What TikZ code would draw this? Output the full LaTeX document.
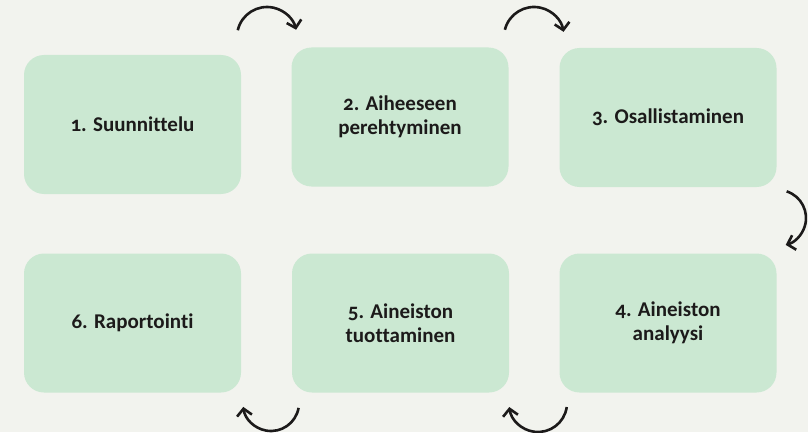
\documentclass[tikz,border=0pt]{standalone}
\usepackage{fontspec}
\setmainfont{Carlito}[Numbers=OldStyle, Ligatures=NoCommon]
\usetikzlibrary{arrows.meta}
\definecolor{bgc}{HTML}{F2F3EE}
\definecolor{boxc}{HTML}{CBE8D2}
\definecolor{inkc}{HTML}{1C1A1A}
\tikzset{
  stepbox/.style={rectangle, rounded corners=20pt, fill=boxc, draw=none,
    minimum width=217pt, minimum height=139pt, align=center,
    font=\fontsize{21}{24.5}\selectfont\bfseries, text=inkc},
  cyclearrow/.style={draw=inkc, line width=2.6pt,
    -{Straight Barb[length=7pt,width=15pt,line width=2.6pt]}}
}
\begin{document}
\begin{tikzpicture}[x=1pt,y=1pt]
\fill[bgc] (0,0) rectangle (808,432);
\useasboundingbox (0,0) rectangle (808,432);
\node[stepbox] (s1) at (132.5,307.5) {1. Suunnittelu};
\node[stepbox] (s2) at (400,315) {2. Aiheeseen\\perehtyminen};
\node[stepbox] (s3) at (668,314.5) {3. Osallistaminen};
\node[stepbox] (s4) at (668,109) {4. Aineiston\\analyysi};
\node[stepbox] (s5) at (400.5,109) {5. Aineiston\\tuottaminen};
\node[stepbox] (s6) at (132.5,109) {6. Raportointi};
\coordinate (c12) at (267,395);
\coordinate (c23) at (534,395);
\coordinate (c34) at (778,214);
\coordinate (c45) at (538,29);
\coordinate (c56) at (271,29);
\draw[cyclearrow] ([shift={(167:30)}]c12) arc[start angle=167, end angle=14, radius=30];
\draw[cyclearrow] ([shift={(166:30)}]c23) arc[start angle=166, end angle=10, radius=30];
\draw[cyclearrow] ([shift={(72:28)}]c34) arc[start angle=72, end angle=-74, radius=28];
\draw[cyclearrow] ([shift={(-8:29)}]c45) arc[start angle=-8, end angle=-172, radius=29];
\draw[cyclearrow] ([shift={(-10:28)}]c56) arc[start angle=-10, end angle=-172, radius=28];
\end{tikzpicture}
\end{document}
